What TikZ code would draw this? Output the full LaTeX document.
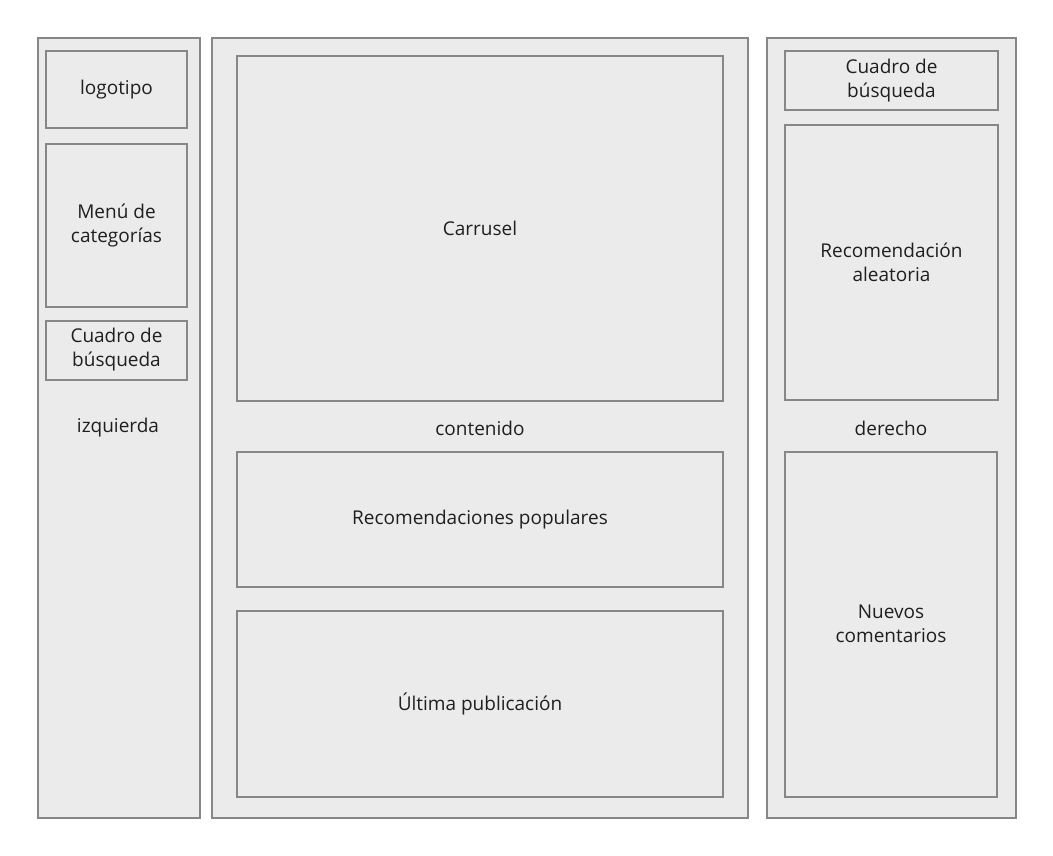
\documentclass[tikz,border=0pt]{standalone}
\usepackage{fontspec}
\setmainfont{Open Sans}
\begin{document}
\begin{tikzpicture}[x=1pt,y=-1pt,
  box/.style={draw=black!47,fill=black!8,line width=2.8pt},
  lbl/.style={font=\fontsize{19}{24}\selectfont,text=black!88,align=center}]
\useasboundingbox (0,0) rectangle (1053,856);
% columns
\draw[box] (38,38) rectangle (200,818);
\draw[box] (212,38) rectangle (748,818);
\draw[box] (767,38) rectangle (1016,818);
% left
\draw[box] (46,51) rectangle (187,128);
\node[lbl] (logo) at (116.5,90) {logotipo};
\draw[box] (46,144) rectangle (187,307);
\node[lbl] (menu) at (116.5,226) {Menú de\\categorías};
\draw[box] (46,321) rectangle (187,380);
\node[lbl] (busq1) at (116.5,350) {Cuadro de\\búsqueda};
\node[lbl] (izq) at (118,428) {izquierda};
% middle
\draw[box] (237,56) rectangle (723,401);
\node[lbl] (carr) at (480,228) {Carrusel};
\node[lbl] (cont) at (480,428) {contenido};
\draw[box] (237,452) rectangle (723,587);
\node[lbl] (pop) at (480,520) {Recomendaciones populares};
\draw[box] (237,611) rectangle (723,797);
\node[lbl] (ult) at (480,704) {Última publicación};
% right
\draw[box] (785,51) rectangle (998,110);
\node[lbl] (busq2) at (891.5,81) {Cuadro de\\búsqueda};
\draw[box] (785,125) rectangle (998,400);
\node[lbl] (alea) at (891.5,262) {Recomendación\\aleatoria};
\node[lbl] (der) at (891,428) {derecho};
\draw[box] (785,452) rectangle (997,797);
\node[lbl] (nuev) at (891,624) {Nuevos\\comentarios};
\end{tikzpicture}
\end{document}
